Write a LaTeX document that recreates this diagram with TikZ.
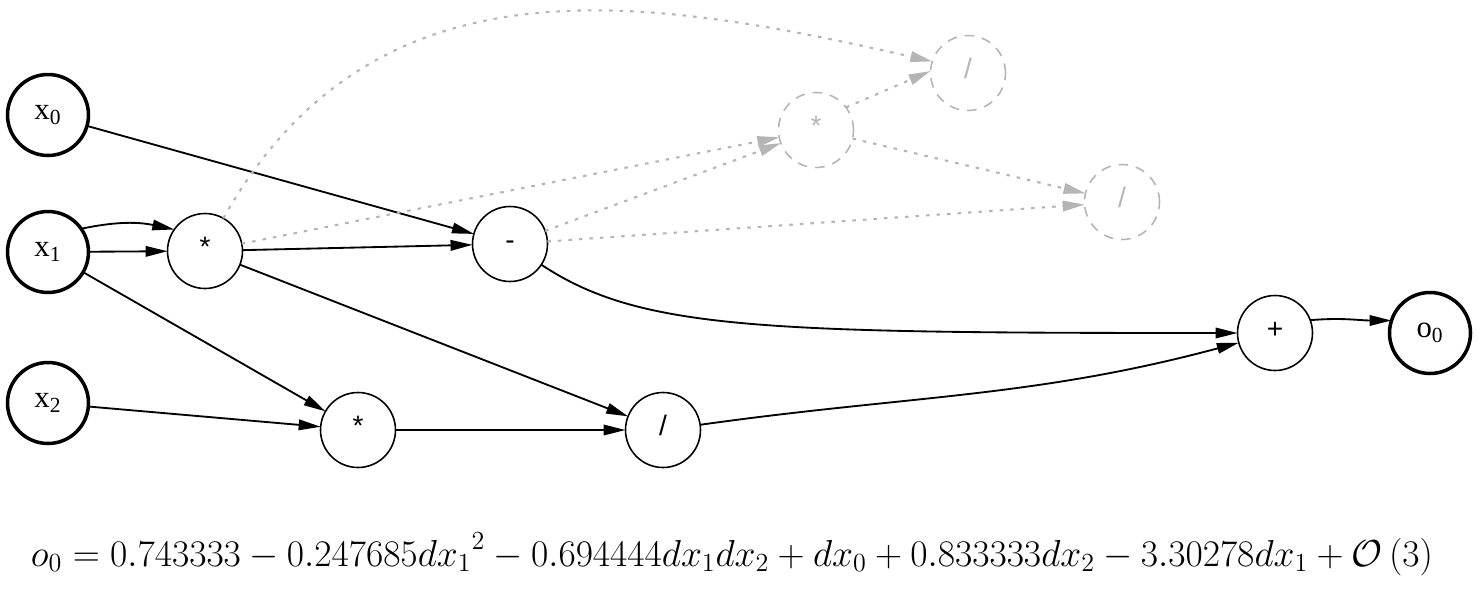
\documentclass[tikz,border=0pt]{standalone}
\usepackage{fontspec}
\usetikzlibrary{arrows.meta}
\newfontfamily\nhanfont{Liberation Serif}
\newfontfamily\phepfont{Liberation Sans}
\definecolor{mauxam}{HTML}{B5B5B5}

\begin{document}
\begin{tikzpicture}[x=0.02cm, y=0.02cm, line join=miter,
	vao/.style={circle, draw, minimum size=1.62cm, inner sep=0pt, outer sep=0pt, line width=2pt, font=\nhanfont\fontsize{17.5}{17.5}\selectfont},
	phep/.style={circle, draw, minimum size=1.5cm, inner sep=0pt, outer sep=0pt, line width=0.9pt, text height=0.62em, text depth=0pt, font=\phepfont\fontsize{16}{16}\selectfont},
	an/.style={phep, draw=mauxam, text=mauxam, dash pattern=on 5.5pt off 4.5pt},
	canh/.style={line width=1.05pt, -{Triangle[length=12.5pt, width=6pt]}},
	canhan/.style={line width=1.2pt, draw=mauxam, dash pattern=on 2pt off 4pt, -{Triangle[length=12.5pt, width=6pt]}},
	congthuc/.style={anchor=base, inner sep=0pt, font=\fontsize{20.74}{25}\selectfont}]
	
	\useasboundingbox (0, 0) rectangle (1477, 600);
	
	% Các nút đầu vào, đầu ra
	\node[vao] (x0) at (48, 485) {x\textsubscript{0}};
	\node[vao] (x1) at (48, 348) {x\textsubscript{1}};
	\node[vao] (x2) at (48, 197) {x\textsubscript{2}};
	\node[vao] (o0) at (1430, 267) {o\textsubscript{0}};
	
	% Các phép toán
	\node[phep] (nhan1) at (205, 349) {*};
	\node[phep] (tru) at (510, 356) {-};
	\node[phep] (nhan2) at (358, 170) {*};
	\node[phep] (chia) at (663, 170) {/};
	\node[phep] (cong) at (1275, 267) {+};
	
	% Các phép toán bị ẩn
	\node[an] (nhan3) at (816, 470) {*};
	\node[an] (chia2) at (968, 527) {/};
	\node[an] (chia3) at (1122, 398) {/};
	
	% Các cạnh
	\draw[canh] (x0) -- (tru);
	\draw[canh] (x1.35) to[out=12, in=168] (nhan1.145);
	\draw[canh] (x1) -- (nhan1);
	\draw[canh] (x1) -- (nhan2);
	\draw[canh] (x2) -- (nhan2);
	\draw[canh] (nhan1) -- (tru);
	\draw[canh] (nhan1) -- (chia);
	\draw[canh] (nhan2) -- (chia);
	\draw[canh] (tru) .. controls (640, 270) and (760, 267) .. (cong);
	\draw[canh] (chia) to[out=8, in=195] (cong);
	\draw[canh] (cong.20) to[out=5, in=180] (o0.162);
	
	% Các cạnh bị ẩn
	\draw[canhan] (nhan1) .. controls (375, 652) and (650, 602) .. (chia2.162);
	\draw[canhan] (nhan1) -- (nhan3);
	\draw[canhan] (tru) -- (nhan3);
	\draw[canhan] (tru) -- (chia3);
	\draw[canhan] (nhan3.37) -- (chia2.177);
	\draw[canhan] (nhan3) -- (chia3);
	
	% Công thức
	\node[congthuc] (pt) at (732, 34) {\scalebox{1.031}{$o_0 = 0.743333 - 0.247685{dx_1}^2 - 0.694444dx_1dx_2 + dx_0 + 0.833333dx_2 - 3.30278dx_1 + \mathcal{O}\left(3\right)$}};
\end{tikzpicture}
\end{document}
